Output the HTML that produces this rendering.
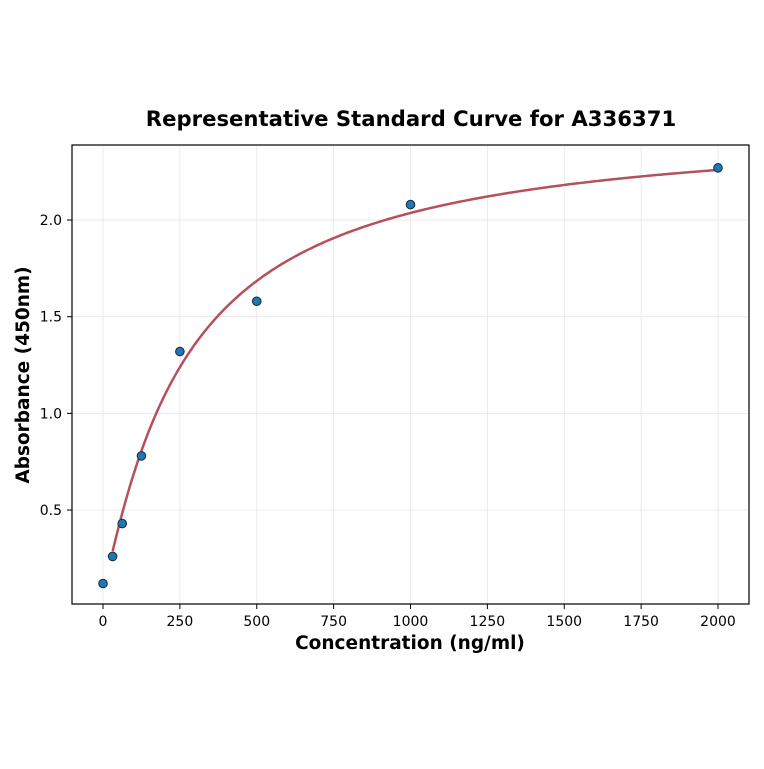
<!DOCTYPE html>
<html><head><meta charset="utf-8"><style>
body{margin:0;background:#fff;}
svg text{font-family:"DejaVu Sans","Liberation Sans",sans-serif;}
</style></head><body>
<svg id="chart" width="764" height="764">
<rect width="764" height="764" fill="#fff"/>
<text x="411" y="126" text-anchor="middle" font-size="21.2" font-weight="bold">Representative Standard Curve for A336371</text>
<g id="grid"></g>
<g id="ticks"></g>
<path id="curve" fill="none" stroke="#b5505f" stroke-width="2.5"/>
<g id="points"></g>
<rect x="72" y="145" width="677" height="459" fill="none" stroke="#000" stroke-width="1.2"/>
<text x="410" y="649" text-anchor="middle" font-size="18.5" font-weight="bold">Concentration (ng/ml)</text>
<text transform="translate(29,375) rotate(-90)" text-anchor="middle" font-size="18.5" font-weight="bold">Absorbance (450nm)</text>
</svg>
<script>
const concentrations=[0,31.25,62.5,125,250,500,1000,2000];
const absorbances=[0.12,0.26,0.43,0.78,1.32,1.58,2.08,2.27];
const xTicks=[0,250,500,750,1000,1250,1500,1750,2000];
const yTicks=[0.5,1.0,1.5,2.0];
const fitParams=[0.08,2.5,270,1.1];
const NS="http://www.w3.org/2000/svg";
const xs=v=>103+v*0.3075;
const ys=v=>606.7-v*193.33;
const grid=document.getElementById('grid'),ticks=document.getElementById('ticks'),pts=document.getElementById('points');
function mk(tag,attrs,parent){const e=document.createElementNS(NS,tag);for(const k in attrs)e.setAttribute(k,attrs[k]);parent.appendChild(e);return e;}
xTicks.forEach(t=>{const x=xs(t);
 const g=mk('line',{x1:x,x2:x,y1:145,y2:604,stroke:'#e6e6e6','stroke-width':0.8},grid);
 
 
 const l=mk('line',{x1:x,x2:x,y1:604,y2:609,stroke:'#000'},ticks);
 
 
 const tx=mk('text',{x:x,y:626,'text-anchor':'middle','font-size':14},ticks);tx.textContent=t;
 
 });
yTicks.forEach(t=>{const y=ys(t);
 const g=mk('line',{x1:72,x2:749,y1:y,y2:y,stroke:'#e6e6e6','stroke-width':0.8},grid);
 
 
 const l=mk('line',{x1:67,x2:72,y1:y,y2:y,stroke:'#000'},ticks);
 
 
 const tx=mk('text',{x:62,y:y+5,'text-anchor':'end','font-size':14},ticks);tx.textContent=t.toFixed(1);
 
 });
const [a,d,c,b]=fitParams;
const f=x=>d+(a-d)/(1+Math.pow(x/c,b));
let p='';const x0=concentrations[1],x1=concentrations[concentrations.length-1];
for(let i=0;i<=300;i++){const x=x0+(x1-x0)*i/300;p+=(i?'L':'M')+xs(x).toFixed(2)+','+ys(f(x)).toFixed(2);}
document.getElementById('curve').setAttribute('d',p);
concentrations.forEach((cv,i)=>{const e=mk('circle',{cx:xs(cv),cy:ys(absorbances[i]),r:4.3,fill:'#1f77b4',stroke:'#1a2a3a','stroke-width':1},pts);
 
 });
</script>
</body></html>
